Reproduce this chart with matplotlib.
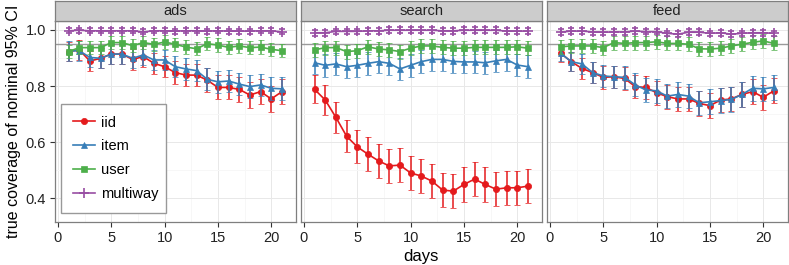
import matplotlib
matplotlib.use("Agg")
import matplotlib.pyplot as plt
import numpy as np

plt.rcParams['font.family'] = ['Liberation Sans', 'DejaVu Sans']

days = list(range(1, 22))
panels = ["ads", "search", "feed"]
series = ["iid", "item", "user", "multiway"]
colors = {"iid": "#E41A1C", "item": "#377EB8", "user": "#4DAF4A", "multiway": "#984EA3"}
markers = {"iid": "o", "item": "^", "user": "s", "multiway": "+"}
msizes = {"iid": 4.5, "item": 5, "user": 4.5, "multiway": 7}

# ---- ads ----
ads_iid = [0.923, 0.929, 0.889, 0.899, 0.914, 0.914, 0.895, 0.905, 0.881, 0.869, 0.848,
           0.839, 0.839, 0.821, 0.795, 0.795, 0.788, 0.768, 0.780, 0.754, 0.780]
ads_iid_err = [0.035, 0.035, 0.036, 0.036, 0.036, 0.036, 0.037, 0.037, 0.038, 0.038, 0.040,
               0.040, 0.040, 0.042, 0.043, 0.043, 0.044, 0.045, 0.045, 0.046, 0.045]
ads_item = [0.925, 0.926, 0.902, 0.899, 0.914, 0.914, 0.899, 0.911, 0.893, 0.893, 0.869,
            0.861, 0.855, 0.824, 0.815, 0.818, 0.807, 0.798, 0.804, 0.792, 0.790]
ads_item_err = [0.035, 0.035, 0.035, 0.036, 0.036, 0.036, 0.036, 0.036, 0.037, 0.037, 0.038,
                0.038, 0.038, 0.039, 0.039, 0.040, 0.040, 0.040, 0.040, 0.041, 0.041]
ads_user = [0.923, 0.937, 0.937, 0.937, 0.955, 0.955, 0.944, 0.955, 0.949, 0.957, 0.949,
            0.939, 0.933, 0.951, 0.946, 0.938, 0.943, 0.937, 0.939, 0.931, 0.926]
ads_user_err = [0.024] * 21
ads_multi = [0.997, 0.999, 0.997, 0.997, 0.997, 0.997, 0.997, 0.993, 0.997, 0.997, 0.996,
             0.997, 0.997, 0.996, 0.997, 0.996, 0.996, 0.996, 0.997, 0.997, 0.993]
ads_multi_err = [0.009] * 21

# ---- search ----
search_iid = [0.788, 0.750, 0.688, 0.621, 0.583, 0.557, 0.533, 0.515, 0.518, 0.490, 0.479,
              0.461, 0.429, 0.425, 0.449, 0.468, 0.449, 0.432, 0.437, 0.437, 0.443]
search_iid_err = [0.050, 0.053, 0.056, 0.058, 0.059, 0.060, 0.060, 0.060, 0.060, 0.061, 0.061,
                  0.061, 0.061, 0.061, 0.061, 0.061, 0.061, 0.061, 0.061, 0.061, 0.061]
search_item = [0.883, 0.874, 0.879, 0.869, 0.874, 0.881, 0.887, 0.881, 0.861, 0.874, 0.887,
               0.895, 0.895, 0.888, 0.886, 0.886, 0.883, 0.890, 0.895, 0.875, 0.869]
search_item_err = [0.040] * 21
search_user = [0.929, 0.937, 0.937, 0.923, 0.926, 0.940, 0.932, 0.929, 0.923, 0.935, 0.943,
               0.943, 0.938, 0.935, 0.935, 0.938, 0.938, 0.938, 0.938, 0.940, 0.935]
search_user_err = [0.025] * 21
search_multi = [0.990, 0.990, 0.995, 0.995, 0.995, 0.997, 0.997, 0.999, 0.999, 0.999, 0.999,
                0.999, 0.997, 0.997, 0.999, 0.999, 0.999, 0.999, 0.996, 0.996, 0.996]
search_multi_err = [0.010] * 21

# ---- feed ----
feed_iid = [0.917, 0.887, 0.863, 0.848, 0.831, 0.833, 0.827, 0.798, 0.795, 0.776, 0.762,
            0.754, 0.754, 0.738, 0.730, 0.750, 0.754, 0.770, 0.780, 0.760, 0.783]
feed_iid_err = [0.030, 0.035, 0.037, 0.038, 0.040, 0.040, 0.040, 0.041, 0.042, 0.042, 0.043,
                0.043, 0.043, 0.044, 0.044, 0.044, 0.044, 0.044, 0.044, 0.044, 0.044]
feed_item = [0.917, 0.887, 0.879, 0.848, 0.836, 0.833, 0.831, 0.804, 0.786, 0.783, 0.764,
             0.770, 0.764, 0.740, 0.744, 0.748, 0.752, 0.770, 0.792, 0.790, 0.795]
feed_item_err = [0.028, 0.035, 0.037, 0.038, 0.039, 0.040, 0.040, 0.041, 0.042, 0.042, 0.043,
                 0.043, 0.043, 0.044, 0.044, 0.044, 0.044, 0.044, 0.044, 0.044, 0.044]
feed_user = [0.940, 0.943, 0.943, 0.943, 0.937, 0.955, 0.952, 0.955, 0.955, 0.958, 0.952,
             0.952, 0.949, 0.933, 0.932, 0.935, 0.943, 0.949, 0.956, 0.961, 0.952]
feed_user_err = [0.025] * 21
feed_multi = [0.992, 0.996, 0.996, 0.993, 0.992, 0.993, 0.993, 0.996, 0.994, 0.994, 0.988,
              0.985, 0.992, 0.992, 0.988, 0.990, 0.985, 0.988, 0.990, 0.990, 0.988]
feed_multi_err = [0.010] * 21

data = {
    "ads": {"iid": (ads_iid, ads_iid_err), "item": (ads_item, ads_item_err),
            "user": (ads_user, ads_user_err), "multiway": (ads_multi, ads_multi_err)},
    "search": {"iid": (search_iid, search_iid_err), "item": (search_item, search_item_err),
               "user": (search_user, search_user_err), "multiway": (search_multi, search_multi_err)},
    "feed": {"iid": (feed_iid, feed_iid_err), "item": (feed_item, feed_item_err),
             "user": (feed_user, feed_user_err), "multiway": (feed_multi, feed_multi_err)},
}

nominal = 0.95
xticks = [0, 5, 10, 15, 20]
yticks = [0.4, 0.6, 0.8, 1.0]
ytick_labels = ["0.4", "0.6", "0.8", "1.0"]

W, H = 789, 265
fig = plt.figure(figsize=(W / 100, H / 100), dpi=100)

lefts = [55, 301, 547]
pw = 240.5
ptop, pbot = 21, 222
strip_top = 1

border_col = "#7f7f7f"
for i, p in enumerate(panels):
    ax = fig.add_axes([lefts[i] / W, (H - pbot) / H, pw / W, (pbot - ptop) / H])
    ax.set_xlim(-0.275, 22.275)
    ax.set_ylim(0.315, 1.032)
    ax.set_xticks(xticks)
    ax.set_xticks([2.5, 7.5, 12.5, 17.5], minor=True)
    ax.set_yticks(yticks)
    ax.set_yticks([0.5, 0.7, 0.9], minor=True)
    ax.grid(True, which="major", color="#e8e8e8", lw=0.7, zorder=0)
    ax.grid(True, which="minor", color="#f7f7f7", lw=0.7, zorder=0)
    ax.set_axisbelow(True)
    for s in ax.spines.values():
        s.set_color(border_col)
        s.set_linewidth(0.9)
    ax.tick_params(which="minor", length=0)
    ax.tick_params(which="major", length=3.6, width=0.8, color="#333333",
                   labelsize=10.5, labelcolor="#222222", pad=3)
    if i == 0:
        ax.set_yticklabels(ytick_labels)
        ax.set_ylabel("true coverage of nominal 95% CI", fontsize=11.5, labelpad=3)
    else:
        ax.tick_params(axis="y", left=False, labelleft=False)
    if i == 1:
        ax.set_xlabel("days", fontsize=12, labelpad=3)

    ax.axhline(nominal, color="#9a9a9a", lw=1.0, zorder=1)

    handles = []
    for k, s in enumerate(series):
        vals, errs = data[p][s]
        c = colors[s]
        eb = ax.errorbar(days, vals, yerr=errs, color=c, lw=1.2, elinewidth=1.1,
                         capsize=1.9, capthick=1.1, marker=markers[s], ms=msizes[s],
                         mew=1.2 if s == "multiway" else 0.5, zorder=3 + k, label=s)
        handles.append(eb)

    if i == 0:
        leg = ax.legend(handles=[h[0] for h in handles], labels=series,
                        loc="lower left",
                        bbox_to_anchor=((61.5 - lefts[0]) / pw, (pbot - 213) / (pbot - ptop),
                                        (166 - 61.5) / pw, 0.5),
                        mode="expand", fontsize=10.5, labelspacing=0.68,
                        handlelength=1.5, handletextpad=0.4, borderpad=0.8,
                        borderaxespad=0, fancybox=False, framealpha=1,
                        edgecolor="#999999")
        leg.get_frame().set_linewidth(1.0)
        leg.set_zorder(20)

    # strip
    sax = fig.add_axes([lefts[i] / W, (H - ptop) / H, pw / W, (ptop - strip_top) / H])
    sax.set_facecolor("#cccccc")
    sax.set_xticks([])
    sax.set_yticks([])
    for s in sax.spines.values():
        s.set_color(border_col)
        s.set_linewidth(0.9)
    sax.text(0.5, 0.5, p, ha="center", va="center", fontsize=10.5, color="#222222",
             transform=sax.transAxes)

fig.savefig("out.png", dpi=100)
